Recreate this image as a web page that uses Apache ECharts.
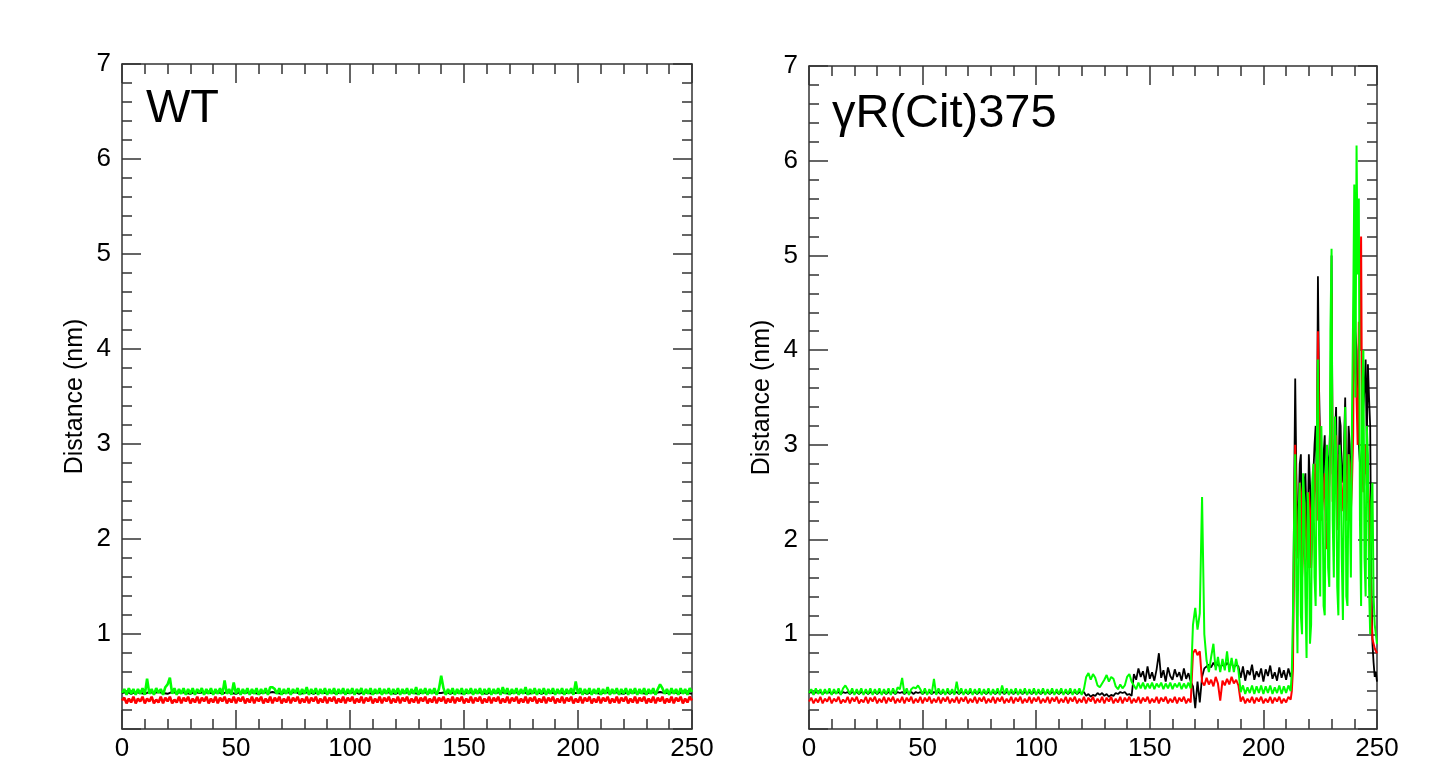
<!DOCTYPE html>
<html>
<head>
<meta charset="utf-8">
<script src="https://cdn.jsdelivr.net/npm/echarts@6/dist/echarts.min.js"></script>
<style>
  html, body { margin: 0; padding: 0; background: #fff; }
  #chart { width: 1431px; height: 765px; }
</style>
</head>
<body>
<div id="chart"></div>
<script>
// time in ns, one sample per ns
const time = Array.from({ length: 251 }, (_, i) => i);
const timeHalf = Array.from({ length: 126 }, (_, i) => i * 2);
// extra half-ns samples in the unfolded part (212.5 ... 249.5)
const timeMid = Array.from({ length: 38 }, (_, i) => 212.5 + i);

const xTicks = [0, 50, 100, 150, 200, 250];
const yTicks = [1, 2, 3, 4, 5, 6, 7];

// WT panel
const wtBlack = [
  0.38,0.39,0.37,0.39,0.38,0.37,0.39,0.38,0.39,0.38,
  0.37,0.39,0.38,0.39,0.38,0.37,0.39,0.38,0.39,0.38,
  0.38,0.39,0.37,0.39,0.38,0.37,0.39,0.38,0.39,0.38,
  0.37,0.39,0.38,0.39,0.38,0.37,0.39,0.38,0.39,0.37,
  0.38,0.39,0.37,0.39,0.38,0.38,0.39,0.37,0.39,0.38,
  0.38,0.39,0.37,0.39,0.38,0.37,0.39,0.38,0.39,0.38,
  0.37,0.39,0.38,0.39,0.38,0.37,0.39,0.38,0.39,0.38,
  0.38,0.39,0.37,0.39,0.38,0.37,0.39,0.38,0.39,0.38,
  0.37,0.39,0.38,0.39,0.38,0.37,0.39,0.38,0.39,0.37,
  0.38,0.39,0.37,0.39,0.38,0.38,0.39,0.37,0.39,0.38,
  0.38,0.39,0.37,0.39,0.38,0.37,0.39,0.38,0.39,0.38,
  0.37,0.39,0.38,0.39,0.38,0.37,0.39,0.38,0.39,0.38,
  0.38,0.39,0.37,0.39,0.38,0.37
];
const wtRed = [
  0.30,0.33,0.27,0.32,0.28,0.34,0.27,0.32,0.29,0.34,
  0.27,0.32,0.29,0.34,0.27,0.31,0.28,0.34,0.27,0.33,
  0.29,0.34,0.27,0.31,0.28,0.34,0.27,0.33,0.29,0.34,
  0.27,0.32,0.28,0.34,0.27,0.33,0.29,0.34,0.27,0.32,
  0.28,0.34,0.27,0.33,0.29,0.34,0.27,0.32,0.28,0.34,
  0.27,0.33,0.29,0.34,0.27,0.32,0.28,0.34,0.27,0.33,
  0.29,0.34,0.27,0.32,0.28,0.34,0.27,0.33,0.29,0.34,
  0.27,0.32,0.28,0.34,0.27,0.33,0.29,0.34,0.27,0.32,
  0.28,0.34,0.27,0.33,0.29,0.34,0.27,0.32,0.28,0.34,
  0.27,0.33,0.29,0.34,0.27,0.32,0.28,0.34,0.27,0.33,
  0.29,0.34,0.27,0.32,0.28,0.34,0.27,0.33,0.29,0.34,
  0.27,0.32,0.28,0.34,0.27,0.33,0.29,0.34,0.27,0.32,
  0.28,0.34,0.27,0.33,0.29,0.34,0.27,0.32,0.28,0.34,
  0.27,0.33,0.29,0.34,0.27,0.32,0.28,0.34,0.27,0.33,
  0.29,0.34,0.27,0.32,0.28,0.34,0.27,0.33,0.29,0.34,
  0.27,0.32,0.28,0.34,0.27,0.33,0.29,0.34,0.27,0.32,
  0.28,0.34,0.27,0.33,0.29,0.34,0.27,0.32,0.28,0.34,
  0.27,0.33,0.29,0.34,0.27,0.32,0.28,0.34,0.27,0.33,
  0.29,0.34,0.27,0.32,0.28,0.34,0.27,0.33,0.29,0.34,
  0.27,0.32,0.28,0.34,0.27,0.33,0.29,0.34,0.27,0.32,
  0.28,0.34,0.27,0.33,0.29,0.34,0.27,0.32,0.28,0.34,
  0.27,0.33,0.29,0.34,0.27,0.32,0.28,0.34,0.27,0.33,
  0.29,0.34,0.27,0.32,0.28,0.34,0.27,0.33,0.29,0.34,
  0.27,0.32,0.28,0.34,0.27,0.33,0.29,0.34,0.27,0.32,
  0.28,0.34,0.27,0.33,0.29,0.34,0.27,0.32,0.28,0.34,
  0.30
];
const wtGreen = [
  0.38,0.42,0.36,0.43,0.37,0.42,0.36,0.42,0.37,0.43,
  0.36,0.53,0.37,0.42,0.36,0.43,0.38,0.42,0.36,0.44,
  0.47,0.54,0.37,0.43,0.36,0.42,0.37,0.43,0.36,0.42,
  0.37,0.43,0.36,0.42,0.38,0.43,0.36,0.42,0.37,0.43,
  0.36,0.42,0.37,0.43,0.36,0.51,0.37,0.42,0.36,0.49,
  0.37,0.43,0.36,0.42,0.37,0.43,0.36,0.42,0.37,0.43,
  0.36,0.42,0.37,0.43,0.36,0.44,0.44,0.42,0.37,0.43,
  0.36,0.42,0.37,0.43,0.36,0.42,0.38,0.43,0.36,0.42,
  0.37,0.44,0.36,0.42,0.37,0.43,0.36,0.42,0.37,0.43,
  0.36,0.42,0.37,0.43,0.36,0.42,0.37,0.43,0.36,0.42,
  0.37,0.43,0.36,0.42,0.38,0.43,0.36,0.42,0.37,0.43,
  0.36,0.42,0.37,0.43,0.36,0.42,0.37,0.43,0.36,0.42,
  0.37,0.43,0.36,0.42,0.37,0.43,0.36,0.42,0.37,0.44,
  0.36,0.42,0.37,0.43,0.36,0.42,0.37,0.43,0.36,0.42,
  0.56,0.43,0.36,0.42,0.37,0.43,0.36,0.42,0.37,0.43,
  0.36,0.42,0.37,0.43,0.36,0.42,0.37,0.43,0.36,0.42,
  0.37,0.43,0.36,0.42,0.37,0.43,0.36,0.44,0.37,0.43,
  0.36,0.42,0.37,0.43,0.36,0.42,0.37,0.44,0.36,0.42,
  0.37,0.43,0.36,0.42,0.37,0.43,0.36,0.42,0.37,0.43,
  0.36,0.42,0.37,0.43,0.36,0.42,0.37,0.43,0.36,0.50,
  0.37,0.43,0.36,0.42,0.37,0.43,0.36,0.42,0.37,0.43,
  0.36,0.42,0.37,0.44,0.36,0.42,0.37,0.43,0.36,0.42,
  0.37,0.43,0.36,0.42,0.37,0.43,0.36,0.42,0.37,0.43,
  0.36,0.42,0.37,0.43,0.36,0.42,0.47,0.43,0.37,0.42,
  0.36,0.43,0.37,0.42,0.36,0.43,0.37,0.42,0.36,0.43,
  0.39
];

// γR(Cit)375 panel
const citBlack = [
  0.38,0.39,0.37,0.39,0.38,0.39,0.37,0.39,0.38,0.39,
  0.37,0.39,0.38,0.39,0.37,0.39,0.38,0.39,0.37,0.39,
  0.38,0.39,0.37,0.39,0.38,0.39,0.37,0.39,0.38,0.39,
  0.37,0.39,0.38,0.39,0.37,0.39,0.38,0.39,0.37,0.39,
  0.38,0.39,0.37,0.39,0.38,0.39,0.37,0.39,0.38,0.39,
  0.37,0.39,0.38,0.39,0.37,0.39,0.38,0.39,0.37,0.39,
  0.38,0.39,0.37,0.39,0.38,0.39,0.37,0.39,0.38,0.39,
  0.37,0.39,0.38,0.39,0.37,0.39,0.38,0.39,0.37,0.39,
  0.38,0.39,0.37,0.39,0.38,0.39,0.37,0.39,0.38,0.39,
  0.37,0.39,0.38,0.39,0.37,0.39,0.38,0.39,0.37,0.39,
  0.38,0.39,0.37,0.39,0.38,0.39,0.37,0.39,0.38,0.39,
  0.37,0.39,0.38,0.39,0.37,0.39,0.38,0.39,0.37,0.39,
  0.38,0.39,0.35,0.37,0.34,0.36,0.35,0.38,0.36,0.38,
  0.35,0.37,0.34,0.36,0.35,0.38,0.37,0.39,0.38,0.39,
  0.36,0.37,0.35,0.58,0.52,0.64,0.55,0.61,0.50,0.66,
  0.53,0.60,0.51,0.63,0.80,0.54,0.62,0.50,0.65,0.56,
  0.52,0.63,0.55,0.60,0.51,0.64,0.53,0.59,0.50,0.45,
  0.22,0.50,0.28,0.55,0.64,0.66,0.68,0.65,0.70,0.66,
  0.69,0.65,0.68,0.66,0.70,0.67,0.69,0.65,0.68,0.66,
  0.54,0.66,0.51,0.62,0.57,0.68,0.52,0.61,0.55,0.64,
  0.50,0.63,0.56,0.67,0.53,0.60,0.51,0.65,0.54,0.62,
  0.52,0.64,0.55,0.70,3.70,2.10,2.80,1.90,2.60,2.20,
  2.90,2.30,2.70,3.20,4.78,3.00,2.40,3.10,2.20,2.90,
  5.00,2.60,3.40,2.50,3.20,2.70,3.50,2.40,3.00,2.80,
  5.20,4.00,3.00,2.60,3.40,3.90,3.85,3.20,0.90,0.55,
  0.50
];
const citBlackMid = [
  0.60,2.40,2.70,2.30,2.90,2.10,2.70,2.00,2.60,2.40,
  3.00,2.60,3.60,2.50,2.90,2.30,2.80,3.30,2.70,3.10,
  2.40,3.30,2.60,3.00,2.50,3.20,2.60,3.50,4.20,3.30,
  2.80,3.10,3.60,3.00,3.50,1.60,0.70,0.60
];
const citRed = [
  0.29,0.33,0.27,0.32,0.28,0.34,0.27,0.32,0.29,0.34,
  0.27,0.32,0.29,0.34,0.27,0.31,0.28,0.34,0.27,0.33,
  0.29,0.34,0.27,0.31,0.28,0.34,0.27,0.33,0.29,0.34,
  0.27,0.32,0.28,0.34,0.27,0.33,0.29,0.34,0.27,0.32,
  0.28,0.34,0.27,0.33,0.29,0.34,0.27,0.32,0.28,0.34,
  0.27,0.33,0.29,0.34,0.27,0.32,0.28,0.34,0.27,0.33,
  0.29,0.34,0.27,0.32,0.28,0.34,0.27,0.33,0.29,0.34,
  0.27,0.32,0.28,0.34,0.27,0.33,0.29,0.34,0.27,0.32,
  0.28,0.34,0.27,0.33,0.29,0.34,0.27,0.32,0.28,0.34,
  0.27,0.33,0.29,0.34,0.27,0.32,0.28,0.34,0.27,0.33,
  0.29,0.34,0.27,0.32,0.28,0.34,0.27,0.33,0.29,0.34,
  0.27,0.32,0.28,0.34,0.27,0.33,0.29,0.34,0.27,0.32,
  0.28,0.34,0.27,0.33,0.29,0.34,0.27,0.32,0.28,0.34,
  0.27,0.33,0.29,0.34,0.27,0.32,0.28,0.34,0.27,0.33,
  0.29,0.34,0.27,0.32,0.28,0.34,0.27,0.33,0.29,0.34,
  0.27,0.32,0.28,0.34,0.27,0.33,0.29,0.34,0.27,0.32,
  0.28,0.34,0.27,0.33,0.29,0.34,0.27,0.32,0.28,0.80,
  0.84,0.78,0.82,0.50,0.46,0.54,0.47,0.52,0.45,0.55,
  0.48,0.30,0.51,0.46,0.53,0.47,0.55,0.48,0.52,0.46,
  0.29,0.34,0.27,0.32,0.28,0.34,0.27,0.33,0.29,0.34,
  0.27,0.32,0.28,0.34,0.27,0.33,0.29,0.34,0.27,0.32,
  0.28,0.34,0.31,0.62,3.00,1.80,2.60,1.60,2.40,1.90,
  2.50,1.70,2.30,2.80,4.20,2.90,2.20,2.70,1.90,2.60,
  4.60,2.40,3.10,2.30,2.90,2.50,3.20,2.20,2.80,2.60,
  4.90,3.50,4.30,5.20,2.50,3.00,2.60,1.80,0.95,0.85,
  0.80
];
const citRedMid = [
  0.40,2.00,2.30,2.10,2.50,1.90,2.20,1.70,2.30,2.00,
  2.60,2.20,3.30,2.20,2.50,2.00,2.40,3.00,2.40,2.80,
  2.10,2.90,2.30,2.70,2.20,2.90,2.30,3.10,3.80,3.00,
  4.00,2.80,2.60,2.70,2.40,1.20,0.90,0.85
];
const citGreen = [
  0.38,0.42,0.36,0.43,0.37,0.42,0.36,0.42,0.37,0.43,
  0.36,0.42,0.37,0.43,0.36,0.43,0.46,0.42,0.37,0.43,
  0.36,0.42,0.37,0.43,0.36,0.42,0.37,0.43,0.36,0.42,
  0.37,0.43,0.36,0.42,0.37,0.43,0.36,0.43,0.37,0.44,
  0.42,0.54,0.37,0.43,0.36,0.42,0.44,0.43,0.46,0.42,
  0.37,0.43,0.36,0.42,0.37,0.53,0.36,0.43,0.37,0.42,
  0.36,0.43,0.37,0.42,0.36,0.50,0.37,0.43,0.36,0.42,
  0.37,0.43,0.36,0.42,0.37,0.43,0.36,0.42,0.37,0.43,
  0.36,0.42,0.37,0.43,0.36,0.46,0.37,0.43,0.36,0.42,
  0.37,0.43,0.36,0.42,0.37,0.43,0.36,0.42,0.37,0.43,
  0.36,0.42,0.37,0.43,0.36,0.42,0.37,0.43,0.36,0.42,
  0.37,0.43,0.36,0.42,0.37,0.43,0.36,0.42,0.37,0.43,
  0.36,0.42,0.55,0.59,0.52,0.58,0.54,0.46,0.44,0.48,
  0.52,0.57,0.50,0.55,0.53,0.45,0.42,0.47,0.43,0.46,
  0.55,0.58,0.50,0.46,0.42,0.49,0.43,0.49,0.42,0.48,
  0.43,0.49,0.42,0.48,0.44,0.49,0.42,0.48,0.43,0.49,
  0.42,0.48,0.44,0.49,0.42,0.48,0.43,0.49,0.43,1.10,
  1.28,1.05,1.22,2.45,1.00,0.72,0.60,0.76,0.90,0.62,
  0.76,0.60,0.74,0.62,0.82,0.60,0.75,0.60,0.74,0.62,
  0.39,0.46,0.37,0.44,0.38,0.46,0.37,0.45,0.38,0.46,
  0.37,0.45,0.38,0.46,0.37,0.44,0.38,0.46,0.37,0.45,
  0.38,0.46,0.40,1.20,2.90,0.80,2.60,1.00,2.40,0.75,
  2.20,1.10,2.80,1.30,3.90,1.40,2.60,1.20,3.00,1.50,
  5.07,1.60,2.90,1.20,2.80,1.15,3.40,1.30,2.50,3.30,
  5.75,6.16,5.60,1.30,4.00,1.40,2.90,1.00,2.60,1.10,
  0.90
];
const citGreenMid = [
  0.60,2.20,1.50,2.30,1.20,2.70,1.40,2.50,0.90,2.60,
  1.60,3.00,2.00,3.20,1.30,2.80,1.70,4.20,2.20,3.30,
  1.50,3.00,1.80,2.70,1.40,2.90,1.60,4.40,3.50,4.80,
  2.20,3.60,1.80,3.20,1.50,2.40,1.40,1.00
];

const axisColor = "#333";
const font = "Liberation Sans, Arial, Helvetica, sans-serif";

function xAxisFor(gridIndex, position, showLabel) {
  return {
    type: "value",
    gridIndex: gridIndex,
    position: position,
    min: 0,
    max: 250,
    interval: 50,
    axisLine: { show: true, onZero: false, lineStyle: { color: axisColor, width: 1.5 } },
    axisTick: { show: true, inside: true, length: 19, lineStyle: { color: axisColor, width: 1.5 } },
    minorTick: { show: true, splitNumber: 5, length: 10, lineStyle: { color: axisColor, width: 1.5 } },
    axisLabel: {
      show: showLabel,
      fontSize: 26,
      color: "#000",
      margin: 7,
      fontFamily: font,
      showMinLabel: true,
      showMaxLabel: true,
      formatter: (v) => (xTicks.indexOf(v) >= 0 ? String(v) : ""),
    },
    splitLine: { show: false },
  };
}

function yAxisFor(gridIndex, position, showLabel) {
  return {
    type: "value",
    gridIndex: gridIndex,
    position: position,
    min: 0,
    max: 7,
    interval: 1,
    name: showLabel ? "Distance (nm)" : "",
    nameLocation: "middle",
    nameGap: 34,
    nameTextStyle: { fontSize: 25, color: "#000", fontFamily: font },
    axisLine: { show: true, onZero: false, lineStyle: { color: axisColor, width: 1.5 } },
    axisTick: { show: true, inside: true, length: 19, lineStyle: { color: axisColor, width: 1.5 } },
    minorTick: { show: true, splitNumber: 5, length: 10, lineStyle: { color: axisColor, width: 1.5 } },
    axisLabel: {
      show: showLabel,
      fontSize: 26,
      color: "#000",
      margin: 11,
      fontFamily: font,
      formatter: (v) => (yTicks.indexOf(v) >= 0 ? String(v) : ""),
    },
    splitLine: { show: false },
  };
}

// pair values with times; optional half-ns samples are merged in time order
function toPoints(xs, ys, midXs, midYs) {
  const pts = ys.map((v, i) => [xs[i], v]);
  if (midXs) {
    midYs.forEach((v, i) => pts.push([midXs[i], v]));
    pts.sort((a, b) => a[0] - b[0]);
  }
  return pts;
}

function lineSeries(name, data, color, axisIndex, width) {
  return {
    name: name,
    type: "line",
    xAxisIndex: axisIndex,
    yAxisIndex: axisIndex,
    data: data,
    showSymbol: false,
    symbol: "none",
    lineStyle: { color: color, width: width },
    itemStyle: { color: color },
    animation: false,
  };
}

const chart = echarts.init(document.getElementById("chart"));

const option = {
  backgroundColor: "#fff",
  animation: false,
  title: [
    {
      text: "WT",
      left: 146,
      top: 86,
      padding: 0,
      textStyle: { fontSize: 47, fontWeight: "normal", color: "#000", fontFamily: font },
    },
    {
      text: "γR(Cit)375",
      left: 832,
      top: 91,
      padding: 0,
      textStyle: { fontSize: 47, fontWeight: "normal", color: "#000", fontFamily: font },
    },
  ],
  grid: [
    { left: 122, top: 64, width: 570, height: 665 },
    { left: 809, top: 66, width: 568, height: 663 },
  ],
  xAxis: [
    xAxisFor(0, "bottom", true),
    xAxisFor(1, "bottom", true),
    xAxisFor(0, "top", false),
    xAxisFor(1, "top", false),
  ],
  yAxis: [
    yAxisFor(0, "left", true),
    yAxisFor(1, "left", true),
    yAxisFor(0, "right", false),
    yAxisFor(1, "right", false),
  ],
  series: [
    lineSeries("WT black", toPoints(timeHalf, wtBlack), "#000000", 0, 2),
    lineSeries("WT red", toPoints(time, wtRed), "#ff0000", 0, 2.6),
    lineSeries("WT green", toPoints(time, wtGreen), "#00ff00", 0, 2.6),
    lineSeries("Cit black", toPoints(time, citBlack, timeMid, citBlackMid), "#000000", 1, 1.8),
    lineSeries("Cit red", toPoints(time, citRed, timeMid, citRedMid), "#ff0000", 1, 2),
    lineSeries("Cit green", toPoints(time, citGreen, timeMid, citGreenMid), "#00ff00", 1, 2),
  ],
};

chart.setOption(option);
</script>
</body>
</html>
